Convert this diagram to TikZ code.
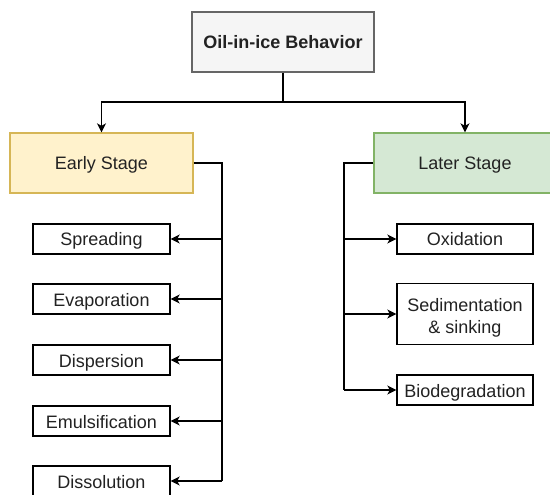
\documentclass[tikz,border=0pt]{standalone}
\usepackage{fontspec}
\setmainfont{Liberation Sans}
\usetikzlibrary{arrows.meta}
\definecolor{txt}{HTML}{222222}
\definecolor{rootfill}{HTML}{F5F5F5}
\definecolor{rootline}{HTML}{666666}
\definecolor{earlyfill}{HTML}{FFF2CC}
\definecolor{earlyline}{HTML}{D6B656}
\definecolor{laterfill}{HTML}{D5E8D4}
\definecolor{laterline}{HTML}{82B366}
\tikzset{
  box/.style={draw=black, line width=1.3pt, fill=white, text=txt, font=\fontsize{18}{21}\selectfont,
    minimum width=137pt, minimum height=30pt, inner sep=0pt, align=center,
    text height=15pt, text depth=1pt},
  stagebox/.style={box, minimum width=182pt, minimum height=60pt},
  wire/.style={draw=black, line width=1.3pt},
  arr/.style={wire, -{Stealth[length=9pt, width=9pt, inset=2.5pt]}},
}
\begin{document}
\begin{tikzpicture}[x=1pt, y=-1pt]
  \useasboundingbox (0,0) rectangle (550,495);
  \fill[white] (0,0) rectangle (550,495);

  % root and the two stages
  \node[stagebox, fill=rootfill, draw=rootline, font=\bfseries\fontsize{18}{21}\selectfont] (root) at (283,42) {Oil-in-ice Behavior};
  \node[stagebox, fill=earlyfill, draw=earlyline, minimum width=183pt] (early) at (101.5,163) {Early Stage};
  \node[stagebox, fill=laterfill, draw=laterline] (later) at (465,163) {Later Stage};

  % early-stage processes
  \node[box] (spr) at (101.5,239) {Spreading};
  \node[box] (eva) at (101.5,299) {Evaporation};
  \node[box] (dis) at (101.5,360) {Dispersion};
  \node[box] (emu) at (101.5,421) {Emulsification};
  \node[box] (sol) at (101.5,481) {Dissolution};

  % later-stage processes
  \node[box, minimum width=136pt] (oxi) at (465,239) {Oxidation};
  \node[box, minimum width=136pt, minimum height=61pt, text height=40pt, text depth=2pt] (sed) at (465,314) {Sedimentation\\[0pt]\& sinking};
  \node[box, minimum width=136pt] (bio) at (465,390) {Biodegradation};

  % tree connectors
  \coordinate (split) at (283,102);
  \coordinate (ebus) at (222,481);
  \coordinate (rbus) at (344,390);

  \draw[arr] (root.south) -- (split) -| (early.north);
  \draw[arr] (split) -| (later.north);

  \draw[wire] (early.east) -| (ebus);
  \draw[arr] (ebus |- spr) -- (spr.east);
  \draw[arr] (ebus |- eva) -- (eva.east);
  \draw[arr] (ebus |- dis) -- (dis.east);
  \draw[arr] (ebus |- emu) -- (emu.east);
  \draw[arr] (ebus |- sol) -- (sol.east);

  \draw[wire] (later.west) -| (rbus);
  \draw[arr] (rbus |- sed.center) -- (sed.west);
  \draw[arr] (rbus |- oxi) -- (oxi.west);
  \draw[arr] (rbus) -- (bio.west);
\end{tikzpicture}
\end{document}
